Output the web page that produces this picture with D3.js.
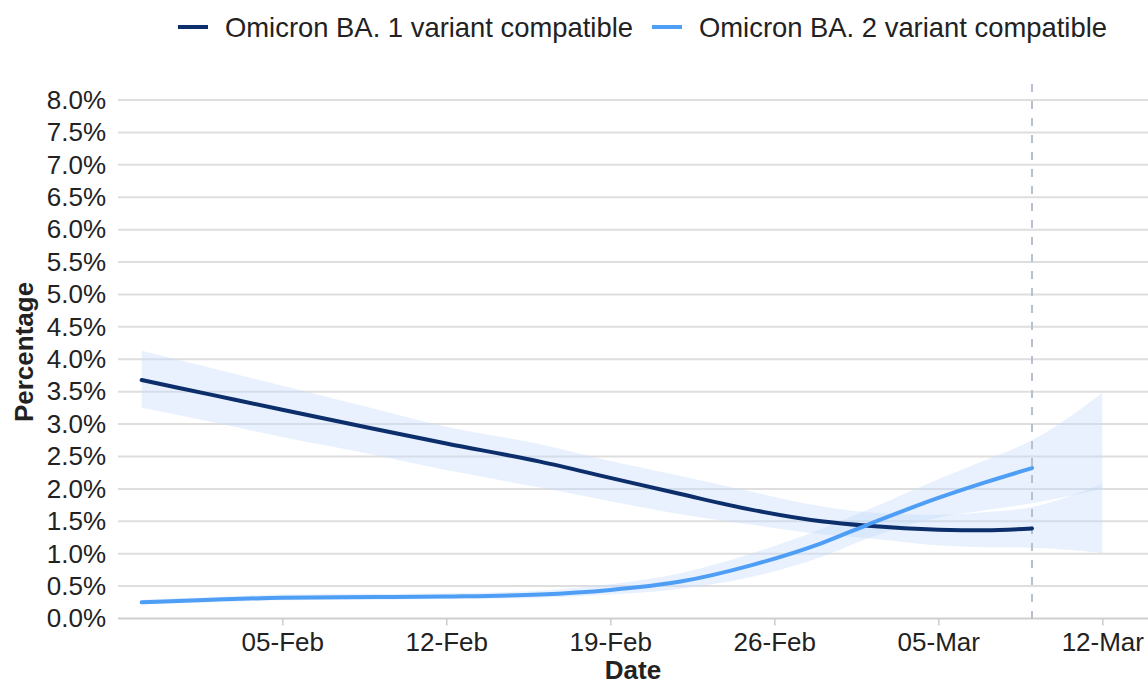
<!DOCTYPE html>
<html>
<head>
<meta charset="utf-8">
<script src="https://cdn.jsdelivr.net/npm/d3@7"></script>
<style>
  body { margin: 0; background: #fff; }
  text { font-family: "Liberation Sans", Arial, sans-serif; fill: #222; }
</style>
</head>
<body>
<div id="chart"></div>
<script>
// sample dates (2022)
const dates = ["2022-01-30", "2022-02-02", "2022-02-05", "2022-02-09", "2022-02-12", "2022-02-16",
  "2022-02-19", "2022-02-22", "2022-02-25", "2022-02-28", "2022-03-02", "2022-03-05",
  "2022-03-07", "2022-03-09", "2022-03-12"];

// Omicron BA.1 estimate and interval (%)
const ba1 = [3.68, 3.45, 3.22, 2.92, 2.70, 2.42, 2.17, 1.92, 1.68, 1.50, 1.43, 1.37, 1.36, 1.39, null];
const ba1Upper = [4.13, 3.86, 3.59, 3.23, 2.96, 2.69, 2.43, 2.20, 1.96, 1.73, 1.64, 1.60, 1.64, 1.72, 2.08];
const ba1Lower = [3.25, 3.03, 2.80, 2.52, 2.29, 2.02, 1.81, 1.61, 1.45, 1.30, 1.24, 1.13, 1.10, 1.09, 1.01];

// Omicron BA.2 estimate and interval (%)
const ba2 = [0.25, 0.29, 0.32, 0.33, 0.34, 0.37, 0.44, 0.57, 0.82, 1.16, 1.45, 1.86, 2.10, 2.32, null];
const ba2Upper = [0.29, 0.33, 0.37, 0.38, 0.39, 0.43, 0.53, 0.70, 1.00, 1.38, 1.68, 2.15, 2.44, 2.75, 3.48];
const ba2Lower = [0.22, 0.25, 0.28, 0.29, 0.30, 0.32, 0.37, 0.46, 0.64, 0.95, 1.24, 1.56, 1.67, 1.78, 2.00];

const xTicks = ["2022-02-05", "2022-02-12", "2022-02-19", "2022-02-26", "2022-03-05", "2022-03-12"];
const yTicks = d3.range(0, 8.01, 0.5);
const cutoffDate = "2022-03-09";

const seriesNames = ["Omicron BA. 1 variant compatible", "Omicron BA. 2 variant compatible"];
const seriesColors = ["#0c2f6b", "#4f9ef6"];

const width = 1148, height = 684;
const plot = {left: 118, right: 1148, top: 100, bottom: 618.5};

const parse = d3.timeParse("%Y-%m-%d");

const svg = d3.select("#chart")
  .append("svg")
    .attr("width", width)
    .attr("height", height);

const x = d3.scaleTime()
  .domain([parse("2022-01-30"), parse("2022-03-12")])
  .range([141.7, 1102.3]);

const y = d3.scaleLinear()
  .domain([0, 8])
  .range([plot.bottom, plot.top]);

// horizontal grid
svg.append("g")
  .selectAll("line")
  .data(yTicks)
  .join("line")
    .attr("x1", plot.left)
    .attr("x2", plot.right)
    .attr("y1", d => y(d))
    .attr("y2", d => y(d))
    .attr("stroke", d => d === 0 ? "#cfcfcf" : "#dedede")
    .attr("stroke-width", 2);

// y axis labels
const yAxis = svg.append("g")
  .attr("transform", `translate(${plot.left},0)`)
  .call(d3.axisLeft(y).tickValues(yTicks).tickSize(0).tickPadding(12).tickFormat(d => d3.format(".1f")(d) + "%"));
yAxis.select(".domain").remove();
yAxis.selectAll("text").style("font-size", "26px").attr("fill", "#222");

// x axis
const xAxis = svg.append("g")
  .attr("transform", `translate(0,${plot.bottom})`)
  .call(d3.axisBottom(x).tickValues(xTicks.map(parse)).tickSize(7).tickPadding(7).tickFormat(d3.timeFormat("%d-%b")));
xAxis.select(".domain").remove();
xAxis.selectAll(".tick line").attr("stroke", "#cccccc").attr("stroke-width", 1.5);
xAxis.selectAll("text").style("font-size", "26px").attr("fill", "#222");

// axis titles
svg.append("text")
  .attr("x", (plot.left + plot.right) / 2)
  .attr("y", 679)
  .attr("text-anchor", "middle")
  .style("font-size", "26px")
  .style("font-weight", "bold")
  .text("Date");

svg.append("text")
  .attr("transform", "translate(33,352) rotate(-90)")
  .attr("text-anchor", "middle")
  .style("font-size", "26px")
  .style("font-weight", "bold")
  .text("Percentage");

// confidence bands
const bands = [
  dates.map((d, i) => ({date: parse(d), lo: ba1Lower[i], hi: ba1Upper[i]})),
  dates.map((d, i) => ({date: parse(d), lo: ba2Lower[i], hi: ba2Upper[i]}))
];

const area = d3.area()
  .x(d => x(d.date))
  .y0(d => y(d.lo))
  .y1(d => y(d.hi))
  .curve(d3.curveMonotoneX);

svg.append("g")
  .selectAll("path")
  .data(bands)
  .join("path")
    .attr("d", area)
    .attr("fill", "#c6dbfa")
    .attr("fill-opacity", 0.4);

// last data date marker
svg.append("line")
  .attr("x1", x(parse(cutoffDate)))
  .attr("x2", x(parse(cutoffDate)))
  .attr("y1", 84)
  .attr("y2", plot.bottom + 8)
  .attr("stroke", "#b7c0cf")
  .attr("stroke-width", 2)
  .attr("stroke-dasharray", "8,9");

// estimate lines
const lines = [
  dates.map((d, i) => ({date: parse(d), value: ba1[i]})),
  dates.map((d, i) => ({date: parse(d), value: ba2[i]}))
];

const line = d3.line()
  .x(d => x(d.date))
  .y(d => y(d.value))
  .curve(d3.curveMonotoneX);

svg.append("g")
  .selectAll("path")
  .data(lines)
  .join("path")
    .attr("d", d => line(d.filter(p => p.value !== null)))
    .attr("fill", "none")
    .attr("stroke", (d, i) => seriesColors[i])
    .attr("stroke-width", 4)
    .attr("stroke-linecap", "round");

// legend
const legend = svg.append("g").attr("transform", "translate(178,27)");
let lx = 0;
seriesNames.forEach((name, i) => {
  legend.append("line")
    .attr("x1", lx).attr("x2", lx + 30)
    .attr("y1", 0).attr("y2", 0)
    .attr("stroke", seriesColors[i])
    .attr("stroke-width", 4);
  const t = legend.append("text")
    .attr("x", lx + 47)
    .attr("y", 0)
    .attr("dy", "0.35em")
    .style("font-size", "27.4px")
    .text(name);
  lx += 47 + t.node().getComputedTextLength() + 19;
});
</script>
</body>
</html>
